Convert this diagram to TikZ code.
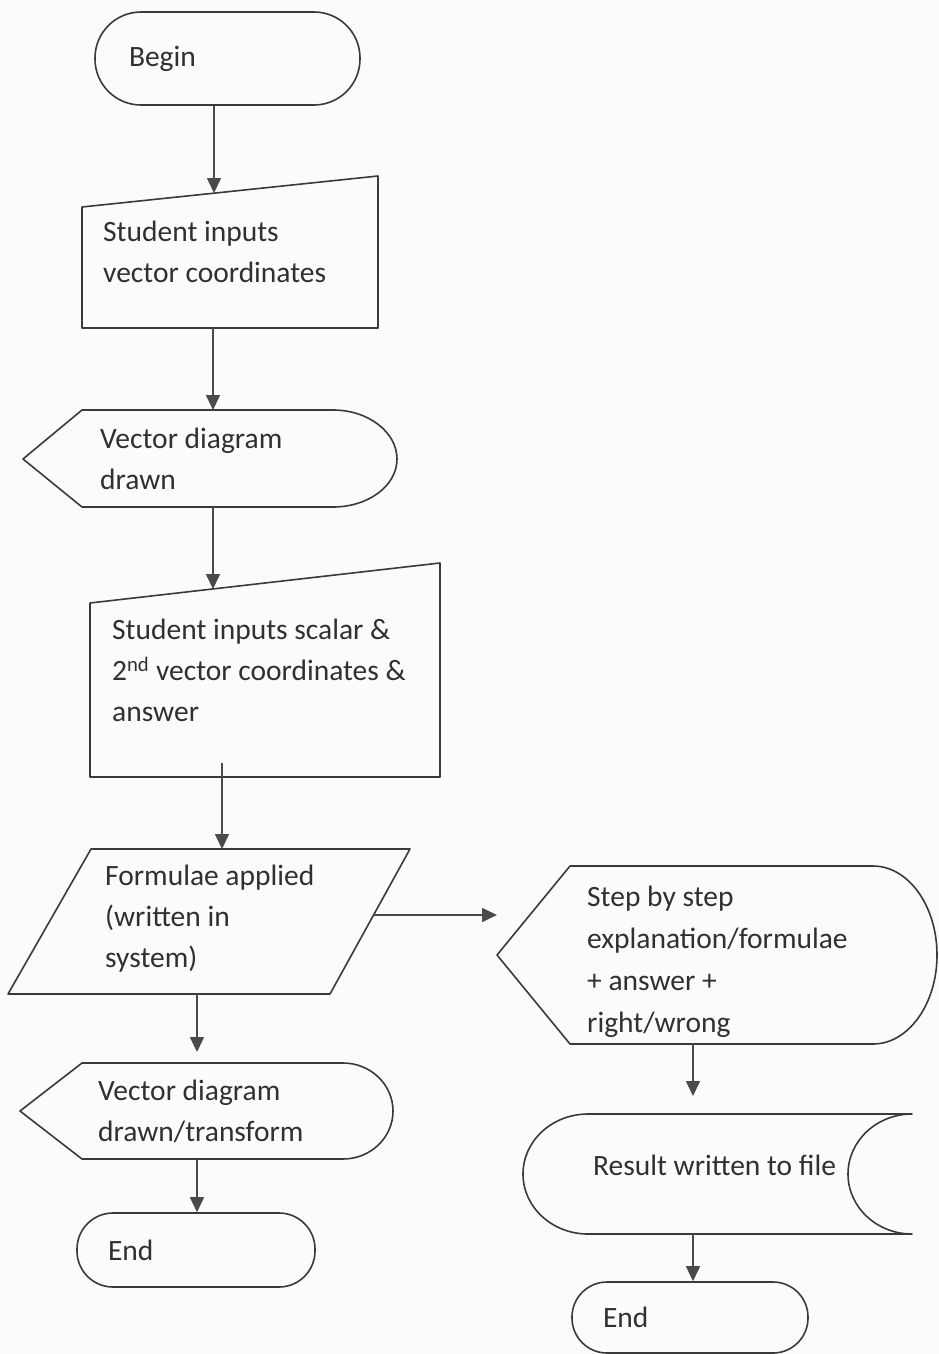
\documentclass[tikz,border=0pt]{standalone}
\usepackage{fontspec}
\setmainfont{Carlito}
\usetikzlibrary{arrows.meta}
\definecolor{linec}{HTML}{3A3A3A}
\definecolor{arrc}{HTML}{4A4A4A}
\definecolor{txtc}{HTML}{303030}
\definecolor{bgc}{HTML}{FBFBFC}
\newcommand{\flowfont}{\fontsize{29.5}{41}\selectfont}
\newcommand{\wideflowfont}{\fontsize{29.5}{42}\selectfont}
\tikzset{
  outline/.style={draw=linec, line width=1.6pt, line join=round},
  arr/.style={draw=arrc, line width=1.6pt, -{Triangle[length=15pt,width=14pt]}},
  lbl/.style={font=\flowfont, text=txtc, anchor=west, align=left, inner sep=0pt},
  terminal/.style={draw=linec, line width=1.6pt, rectangle, inner sep=0pt,
                   font=\flowfont, text=txtc, align=left}
}
\begin{document}
\begin{tikzpicture}[x=1pt,y=-1pt]
\fill[bgc] (0,0) rectangle (939,1354);
\useasboundingbox (0,0) rectangle (939,1354);

% ---------- left column ----------
\node[terminal, rounded corners=46pt, minimum width=265pt, minimum height=93pt,
      text width=197pt] (begin) at (227.5,58.5) {Begin};

% manual input: vector coordinates
\draw[outline] (82,207) -- (378,176) -- (378,328) -- (82,328) -- cycle;
\node[lbl] (inpA) at (103,253.3) {\strut Student inputs\\vector coordinates\strut};
\coordinate (inpAtop) at (214,193);
\coordinate (inpAbot) at (213,328);

% display: vector diagram drawn
\draw[outline] (23,459) -- (82,410) -- (333,410)
  .. controls (368.3,410) and (397,432.2) .. (397,459)
  .. controls (397,485.8) and (368.3,507) .. (333,507) -- (82,507) -- cycle;
\node[lbl] (dispA) at (100,460.3) {\strut Vector diagram\\drawn\strut};
\coordinate (dispAtop) at (213,410);
\coordinate (dispAbot) at (213,507);

% manual input: scalar and second vector
\draw[outline] (90,603) -- (440,563) -- (440,777) -- (90,777) -- cycle;
\node[lbl] (inpB) at (112,672.3)
  {\strut Student inputs scalar \&\\2\textsuperscript{nd} vector coordinates \&\\answer\strut};
\coordinate (inpBtop) at (213,589);
\coordinate (inpBout) at (222,763);

% process: formulae applied
\draw[outline] (91,849) -- (410,849) -- (330,994) -- (8,994) -- cycle;
\node[lbl] (proc) at (105,918.3) {\strut Formulae applied\\(written in\\system)\strut};
\coordinate (proctop) at (222,849);
\coordinate (procright) at (373.6,915);
\coordinate (procbot) at (197,994);

% display: vector diagram drawn/transform
\draw[outline] (20,1111) -- (82,1063) -- (343,1063)
  .. controls (370.6,1063) and (393,1084.5) .. (393,1111)
  .. controls (393,1137.5) and (370.6,1159) .. (343,1159) -- (82,1159) -- cycle;
\node[lbl] (dispB) at (98,1112.8) {\strut Vector diagram\\drawn/transform\strut};
\coordinate (dispBtop) at (197,1052);
\coordinate (dispBbot) at (197,1159);

\node[terminal, rounded corners=36pt, minimum width=238pt, minimum height=74pt,
      text width=176pt] (endA) at (196,1250) {End};

% ---------- right column ----------
% display: step by step explanation
\draw[outline] (497,955) -- (570,866) -- (873,866)
  .. controls (908.3,866) and (937,905.8) .. (937,955)
  .. controls (937,1004.2) and (908.3,1044) .. (873,1044) -- (570,1044) -- cycle;
\node[lbl, font=\wideflowfont] (dispC) at (587,960.6)
  {\strut Step by step\\explanation/formulae\\+ answer +\\right/wrong\strut};
\coordinate (dispCin) at (497,915);
\coordinate (dispCbot) at (693,1044);

% stored data: result written to file
\draw[outline] (588,1114) -- (912,1114)
  .. controls (876.7,1114) and (848,1140.9) .. (848,1174)
  .. controls (848,1207.1) and (876.7,1234) .. (912,1234) -- (588,1234)
  .. controls (552.1,1234) and (523,1207.1) .. (523,1174)
  .. controls (523,1140.9) and (552.1,1114) .. (588,1114) -- cycle;
\node[lbl] (store) at (593,1166.8) {\strut Result written to file\strut};
\coordinate (storetop) at (693,1096);
\coordinate (storebot) at (693,1234);

\node[terminal, rounded corners=35pt, minimum width=236pt, minimum height=71pt,
      text width=174pt] (endB) at (690,1317.5) {End};

% ---------- connectors ----------
\draw[arr] (begin.south -| inpAtop) -- (inpAtop);
\draw[arr] (inpAbot) -- (dispAtop);
\draw[arr] (dispAbot) -- (inpBtop);
\draw[arr] (inpBout) -- (proctop);
\draw[arr] (procright) -- (dispCin);
\draw[arr] (procbot) -- (dispBtop);
\draw[arr] (dispBbot) -- (endA.north -| dispBbot);
\draw[arr] (dispCbot) -- (storetop);
\draw[arr] (storebot) -- (endB.north -| storebot);
\end{tikzpicture}
\end{document}
